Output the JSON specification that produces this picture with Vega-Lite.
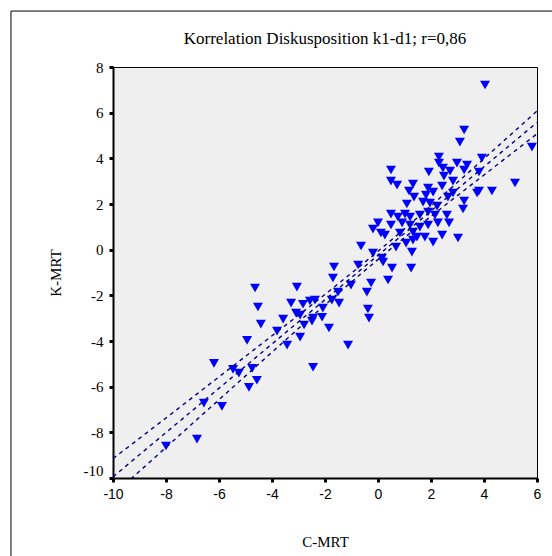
{
  "$schema": "https://vega.github.io/schema/vega-lite/v6.json",
  "width": 424,
  "height": 411,
  "autosize": {"type": "none"},
  "padding": {"left": 113, "top": 67, "right": 15, "bottom": 78},
  "background": "white",
  "title": {
    "text": "Korrelation Diskusposition k1-d1; r=0,86",
    "font": "Liberation Serif",
    "fontSize": 17,
    "fontWeight": "normal",
    "color": "black",
    "anchor": "middle",
    "frame": "group",
    "baseline": "alphabetic",
    "offset": -50
  },
  "config": {
    "view": {"fill": "#EFEFEF", "stroke": "black", "strokeWidth": 1},
    "axisY": {"labelFont": "Liberation Serif", "labelFontSize": 15},
    "axisX": {"labelFont": "Liberation Sans", "labelFontSize": 14}
  },
  "datasets": {
    "points": [
      {"C_MRT": 4.04, "K_MRT": 7.21}, {"C_MRT": 3.25, "K_MRT": 5.24}, {"C_MRT": 3.09, "K_MRT": 4.71}, {"C_MRT": 5.81, "K_MRT": 4.49},
      {"C_MRT": 5.17, "K_MRT": 2.92}, {"C_MRT": 4.30, "K_MRT": 2.57}, {"C_MRT": 3.81, "K_MRT": 2.57}, {"C_MRT": 3.74, "K_MRT": 2.48},
      {"C_MRT": 3.92, "K_MRT": 4.01}, {"C_MRT": 3.81, "K_MRT": 3.40}, {"C_MRT": 3.36, "K_MRT": 3.71}, {"C_MRT": 2.98, "K_MRT": 3.79},
      {"C_MRT": 2.30, "K_MRT": 4.06}, {"C_MRT": 2.30, "K_MRT": 3.79}, {"C_MRT": 2.45, "K_MRT": 3.57}, {"C_MRT": 2.72, "K_MRT": 3.44},
      {"C_MRT": 3.25, "K_MRT": 3.49}, {"C_MRT": 1.92, "K_MRT": 3.40}, {"C_MRT": 2.49, "K_MRT": 3.22}, {"C_MRT": 0.49, "K_MRT": 3.49},
      {"C_MRT": 0.49, "K_MRT": 3.00}, {"C_MRT": 0.72, "K_MRT": 2.83}, {"C_MRT": 1.32, "K_MRT": 2.87}, {"C_MRT": 1.17, "K_MRT": 2.57},
      {"C_MRT": 1.89, "K_MRT": 2.70}, {"C_MRT": 2.08, "K_MRT": 2.52}, {"C_MRT": 2.42, "K_MRT": 2.79}, {"C_MRT": 2.83, "K_MRT": 3.00},
      {"C_MRT": 2.64, "K_MRT": 2.30}, {"C_MRT": 2.83, "K_MRT": 2.48}, {"C_MRT": 3.25, "K_MRT": 2.13}, {"C_MRT": 3.21, "K_MRT": 1.78},
      {"C_MRT": 1.36, "K_MRT": 2.30}, {"C_MRT": 1.09, "K_MRT": 2.00}, {"C_MRT": 1.70, "K_MRT": 2.08}, {"C_MRT": 1.96, "K_MRT": 2.04},
      {"C_MRT": 2.23, "K_MRT": 1.91}, {"C_MRT": 1.81, "K_MRT": 2.39}, {"C_MRT": 0.49, "K_MRT": 1.56}, {"C_MRT": 0.75, "K_MRT": 1.43},
      {"C_MRT": 1.02, "K_MRT": 1.56}, {"C_MRT": 1.21, "K_MRT": 1.43}, {"C_MRT": 1.58, "K_MRT": 1.52}, {"C_MRT": 1.89, "K_MRT": 1.65},
      {"C_MRT": 2.15, "K_MRT": 1.52}, {"C_MRT": 2.60, "K_MRT": 1.52}, {"C_MRT": 2.68, "K_MRT": 1.17}, {"C_MRT": 2.26, "K_MRT": 1.17},
      {"C_MRT": 0.00, "K_MRT": 1.17}, {"C_MRT": -0.19, "K_MRT": 0.90}, {"C_MRT": 0.49, "K_MRT": 1.08}, {"C_MRT": 0.91, "K_MRT": 1.17},
      {"C_MRT": 1.21, "K_MRT": 1.08}, {"C_MRT": 1.58, "K_MRT": 0.99}, {"C_MRT": 1.89, "K_MRT": 1.08}, {"C_MRT": 0.11, "K_MRT": 0.73},
      {"C_MRT": 0.26, "K_MRT": 0.64}, {"C_MRT": 0.83, "K_MRT": 0.73}, {"C_MRT": 1.32, "K_MRT": 0.77}, {"C_MRT": 1.47, "K_MRT": 0.55},
      {"C_MRT": 1.77, "K_MRT": 0.55}, {"C_MRT": 2.42, "K_MRT": 0.64}, {"C_MRT": 3.02, "K_MRT": 0.51}, {"C_MRT": 2.08, "K_MRT": 0.33},
      {"C_MRT": 0.68, "K_MRT": 0.11}, {"C_MRT": 1.06, "K_MRT": 0.29}, {"C_MRT": 1.28, "K_MRT": -0.11}, {"C_MRT": -0.64, "K_MRT": 0.16},
      {"C_MRT": -0.19, "K_MRT": -0.15}, {"C_MRT": 0.15, "K_MRT": -0.37}, {"C_MRT": 1.32, "K_MRT": 0.42}, {"C_MRT": 1.25, "K_MRT": -0.81},
      {"C_MRT": -1.66, "K_MRT": -0.76}, {"C_MRT": -0.75, "K_MRT": -0.67}, {"C_MRT": 0.19, "K_MRT": -0.54}, {"C_MRT": 0.53, "K_MRT": -0.81},
      {"C_MRT": -1.70, "K_MRT": -1.24}, {"C_MRT": -1.02, "K_MRT": -1.55}, {"C_MRT": -0.26, "K_MRT": -1.46}, {"C_MRT": -0.42, "K_MRT": -1.86},
      {"C_MRT": 0.38, "K_MRT": -1.33}, {"C_MRT": -4.64, "K_MRT": -1.68}, {"C_MRT": -3.06, "K_MRT": -1.64}, {"C_MRT": -1.51, "K_MRT": -1.86},
      {"C_MRT": -3.28, "K_MRT": -2.34}, {"C_MRT": -2.83, "K_MRT": -2.39}, {"C_MRT": -2.57, "K_MRT": -2.25}, {"C_MRT": -2.38, "K_MRT": -2.21},
      {"C_MRT": -2.08, "K_MRT": -2.56}, {"C_MRT": -1.74, "K_MRT": -2.21}, {"C_MRT": -1.47, "K_MRT": -2.34}, {"C_MRT": -4.53, "K_MRT": -2.51},
      {"C_MRT": -3.09, "K_MRT": -2.78}, {"C_MRT": -2.94, "K_MRT": -2.87}, {"C_MRT": -2.45, "K_MRT": -3.00}, {"C_MRT": -2.49, "K_MRT": -3.13},
      {"C_MRT": -2.11, "K_MRT": -2.96}, {"C_MRT": -2.79, "K_MRT": -3.30}, {"C_MRT": -3.58, "K_MRT": -3.04}, {"C_MRT": -4.42, "K_MRT": -3.26},
      {"C_MRT": -1.85, "K_MRT": -3.43}, {"C_MRT": -0.38, "K_MRT": -2.60}, {"C_MRT": -0.34, "K_MRT": -3.00}, {"C_MRT": -3.81, "K_MRT": -3.57},
      {"C_MRT": -3.43, "K_MRT": -4.18}, {"C_MRT": -2.94, "K_MRT": -3.83}, {"C_MRT": -1.13, "K_MRT": -4.18}, {"C_MRT": -4.94, "K_MRT": -3.97},
      {"C_MRT": -6.19, "K_MRT": -4.98}, {"C_MRT": -5.47, "K_MRT": -5.24}, {"C_MRT": -5.25, "K_MRT": -5.41}, {"C_MRT": -4.75, "K_MRT": -5.20},
      {"C_MRT": -4.57, "K_MRT": -5.72}, {"C_MRT": -4.87, "K_MRT": -6.03}, {"C_MRT": -2.45, "K_MRT": -5.15}, {"C_MRT": -6.57, "K_MRT": -6.72},
      {"C_MRT": -5.89, "K_MRT": -6.86}, {"C_MRT": -8.00, "K_MRT": -8.60}, {"C_MRT": -6.83, "K_MRT": -8.30}
    ],
    "lines": [
      {"line": "lo", "C_MRT": -10, "K_MRT": -10.75}, {"line": "lo", "C_MRT": -8, "K_MRT": -8.66}, {"line": "lo", "C_MRT": -6, "K_MRT": -6.57},
      {"line": "lo", "C_MRT": -4, "K_MRT": -4.49}, {"line": "lo", "C_MRT": -2, "K_MRT": -2.42}, {"line": "lo", "C_MRT": 0, "K_MRT": -0.43},
      {"line": "lo", "C_MRT": 2, "K_MRT": 1.46}, {"line": "lo", "C_MRT": 4, "K_MRT": 3.27}, {"line": "lo", "C_MRT": 6, "K_MRT": 5.07},
      {"line": "fit", "C_MRT": -10, "K_MRT": -9.95}, {"line": "fit", "C_MRT": 6, "K_MRT": 5.57},
      {"line": "hi", "C_MRT": -10, "K_MRT": -9.15}, {"line": "hi", "C_MRT": -8, "K_MRT": -7.37}, {"line": "hi", "C_MRT": -6, "K_MRT": -5.57},
      {"line": "hi", "C_MRT": -4, "K_MRT": -3.77}, {"line": "hi", "C_MRT": -2, "K_MRT": -1.96}, {"line": "hi", "C_MRT": 0, "K_MRT": -0.07},
      {"line": "hi", "C_MRT": 2, "K_MRT": 1.92}, {"line": "hi", "C_MRT": 4, "K_MRT": 3.99}, {"line": "hi", "C_MRT": 6, "K_MRT": 6.07}
    ]
  },
  "layer": [
    {
      "data": {"values": [{"frame": 1}]},
      "mark": {"type": "rect", "fill": null, "stroke": "black", "strokeWidth": 1, "clip": false},
      "encoding": {
        "x": {"datum": -13.85, "type": "quantitative", "scale": {"domain": [-10, 6], "nice": false, "zero": false}},
        "x2": {"datum": 40},
        "y": {"datum": 10.45, "type": "quantitative", "scale": {"domain": [-10, 8], "nice": false, "zero": false}},
        "y2": {"datum": -40}
      }
    },
    {
      "data": {"name": "points"},
      "mark": {"type": "point", "shape": "triangle-down", "filled": true, "color": "#0000FF", "opacity": 1, "size": 100},
      "encoding": {
        "x": {
          "field": "C_MRT", "type": "quantitative",
          "scale": {"domain": [-10, 6], "nice": false, "zero": false},
          "axis": {
            "values": [-10, -8, -6, -4, -2, 0, 2, 4, 6],
            "labelExpr": "datum.value + ''",
            "labelFlush": false,
            "labelFont": "Liberation Sans", "labelFontSize": 14, "labelColor": "black", "labelPadding": 5,
            "tickSize": 4, "tickWidth": 3, "tickColor": "black",
            "domainColor": "black", "domainWidth": 2, "grid": false,
            "title": "C-MRT", "titleFont": "Liberation Serif", "titleFontSize": 15, "titleFontWeight": "normal", "titleColor": "black", "titlePadding": 33
          }
        },
        "y": {
          "field": "K_MRT", "type": "quantitative",
          "scale": {"domain": [-10, 8], "nice": false, "zero": false},
          "axis": {
            "values": [-10, -8, -6, -4, -2, 0, 2, 4, 6, 8],
            "labelExpr": "datum.value + ''",
            "labelFlush": false,
            "labelFont": "Liberation Serif", "labelFontSize": 15, "labelColor": "black", "labelPadding": 6,
            "labelOffset": {"condition": {"test": "datum.value == -10", "value": -8}, "value": 0},
            "tickSize": 4, "tickWidth": 3, "tickColor": "black",
            "domainColor": "black", "domainWidth": 2, "grid": false,
            "title": "K-MRT", "titleFont": "Liberation Serif", "titleFontSize": 15, "titleFontWeight": "normal", "titleColor": "black", "titlePadding": 20
          }
        }
      }
    },
    {
      "data": {"name": "lines"},
      "mark": {"type": "line", "strokeDash": [4, 4], "strokeWidth": 1.4, "color": "#000080", "clip": true, "interpolate": "monotone"},
      "encoding": {
        "x": {"field": "C_MRT", "type": "quantitative", "scale": {"domain": [-10, 6], "nice": false, "zero": false}},
        "y": {"field": "K_MRT", "type": "quantitative", "scale": {"domain": [-10, 8], "nice": false, "zero": false}},
        "detail": {"field": "line"}
      }
    }
  ]
}
